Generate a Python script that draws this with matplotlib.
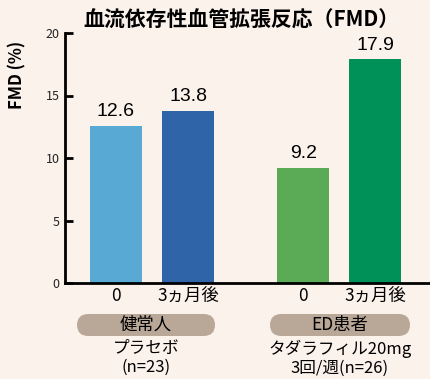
import matplotlib.pyplot as plt
from matplotlib.patches import FancyBboxPatch

plt.rcParams['font.family'] = ['Noto Sans CJK JP', 'DejaVu Sans']

positions = [0, 1, 2.6, 3.6]
values = [12.6, 13.8, 9.2, 17.9]
tick_labels = ['0', '3ヵ月後', '0', '3ヵ月後']
colors = ['#58aad5', '#2f64a8', '#5bab56', '#009159']
groups = ['健常人', 'ED患者']
group_notes = ['プラセボ\n(n=23)', 'タダラフィル20mg\n3回/週(n=26)']

bg = '#fcf2ec'
fig = plt.figure(figsize=(4.3, 3.79), dpi=100, facecolor=bg)
ax = fig.add_axes([65/430, 96/379, 365/430, 250/379], facecolor=bg)

ax.bar(positions, values, width=0.72, color=colors)
for x, v in zip(positions, values):
    ax.text(x, v + 0.45, f'{v}', ha='center', va='bottom', fontsize=14,
            family=['Liberation Sans', 'DejaVu Sans'])

ax.set_xlim(-0.708, 4.36)
ax.set_ylim(0, 20)
ax.set_yticks([0, 5, 10, 15, 20])
ax.tick_params(axis='y', direction='in', length=6, width=2, labelsize=9, pad=4,
               labelcolor='#222222')
ax.set_xticks(positions)
ax.set_xticklabels(tick_labels, fontsize=12.5)
ax.tick_params(axis='x', length=0, pad=3)
for s in ['top', 'right']:
    ax.spines[s].set_visible(False)
ax.spines['left'].set_linewidth(2)
ax.spines['bottom'].set_linewidth(2)

fig.text(17/430, 1 - 75/379, 'FMD (%)', rotation=90, ha='center', va='center',
         fontsize=12, fontweight='bold')
fig.text(241/430, 1 - 20/379, '血流依存性血管拡張反応（FMD）', ha='center', va='center',
         fontsize=15, fontweight='bold')

pill_x = [(77, 215), (270, 410)]
for (x0, x1), g, note in zip(pill_x, groups, group_notes):
    fx0, fx1 = x0 / 430, x1 / 430
    fy0, fy1 = 1 - 336/379, 1 - 314/379
    p = FancyBboxPatch((fx0, fy0), fx1 - fx0, fy1 - fy0,
                       boxstyle='round,pad=0,rounding_size=0.026',
                       transform=fig.transFigure, facecolor='#b9a898',
                       edgecolor='none', mutation_aspect=430/379)
    fig.patches.append(p)
    cx = (fx0 + fx1) / 2
    fig.text(cx, (fy0 + fy1) / 2, g, ha='center', va='center', fontsize=12.5)
    fig.text(cx, 1 - 358/379, note, ha='center', va='center', fontsize=12,
             linespacing=1.15)

fig.savefig('out.png', dpi=100, facecolor=bg)
